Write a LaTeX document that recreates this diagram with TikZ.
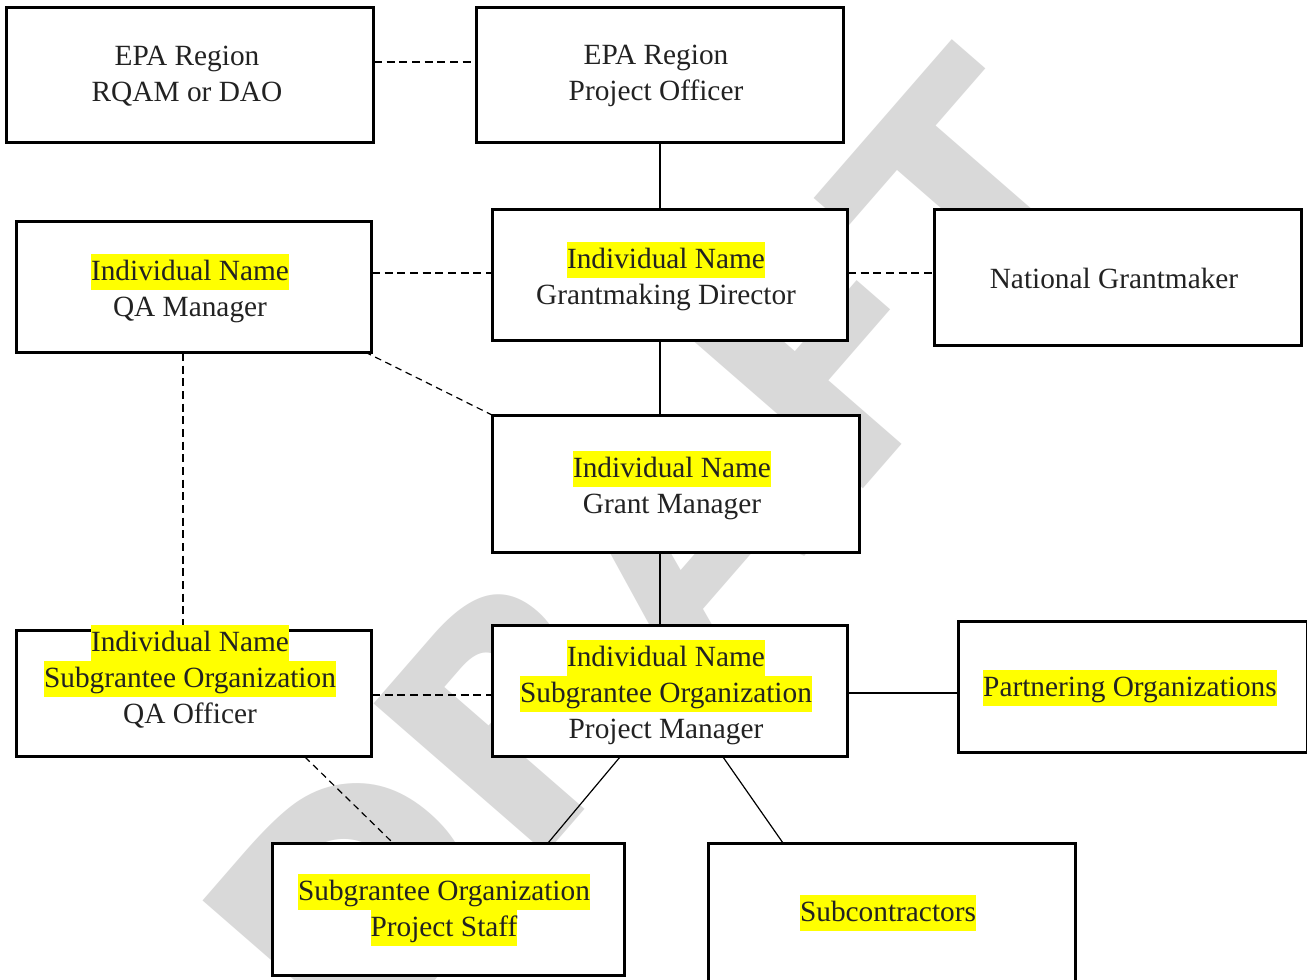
\documentclass[tikz,border=0pt]{standalone}
\usepackage{fontspec}
\setmainfont{Liberation Serif}
\newfontfamily\wmfont{DejaVu Sans}
\usepackage{xcolor}
\definecolor{wmgray}{RGB}{217,217,217}
\definecolor{hlyellow}{RGB}{255,255,0}
\definecolor{txtcol}{RGB}{34,34,34}
\newcommand{\hlt}[1]{{\setlength{\fboxsep}{0pt}\colorbox{hlyellow}{\rule[-7pt]{0pt}{27pt}#1}}}
\begin{document}
\begin{tikzpicture}[x=0.75pt,y=-0.75pt,
  box/.style={draw=black, fill=white, line width=1.5pt, rectangle, inner sep=0pt},
  txt/.style={align=center, text=txtcol, font=\fontsize{22}{27}\selectfont, inner sep=0pt},
  solidline/.style={line width=1.5pt},
  thickline/.style={line width=2.2pt},
  thinline/.style={line width=0.9pt},
  dashline/.style={line width=1.5pt, dash pattern=on 6pt off 3.5pt},
  thindash/.style={line width=0.9pt, dash pattern=on 5pt off 3.5pt}]
\useasboundingbox (0,0) rectangle (1307,979);
\fill[white] (0,0) rectangle (1307,979);
% watermark
\node[text=wmgray, font=\wmfont\bfseries\fontsize{235}{235}\selectfont, rotate=49, inner sep=0pt] (wm) at (655,555) {DRAFT};
% boxes
\node[box, minimum width=366*0.75pt, minimum height=134*0.75pt] (epa1) at (190,75) {};
\node[box, minimum width=366*0.75pt, minimum height=134*0.75pt] (epa2) at (660,75) {};
\node[box, minimum width=354*0.75pt, minimum height=130*0.75pt] (qam) at (194,287) {};
\node[box, minimum width=354*0.75pt, minimum height=130*0.75pt] (gmd) at (670,275) {};
\node[box, minimum width=366*0.75pt, minimum height=135*0.75pt] (ngm) at (1118,277.5) {};
\node[box, minimum width=366*0.75pt, minimum height=136*0.75pt] (gm) at (676,484) {};
\node[box, minimum width=354*0.75pt, minimum height=125*0.75pt] (qao) at (194,693.5) {};
\node[box, minimum width=354*0.75pt, minimum height=130*0.75pt] (pm) at (670,691) {};
\node[box, minimum width=348*0.75pt, minimum height=130*0.75pt] (po) at (1133,687) {};
\node[box, minimum width=351*0.75pt, minimum height=131*0.75pt] (ps) at (448.5,909.5) {};
\node[box, minimum width=366*0.75pt, minimum height=140*0.75pt] (sc) at (892,914) {};
% connectors
\draw[dashline] (epa1.east |- 0,62) -- (epa2.west |- 0,62);
\draw[solidline] (epa2.south -| 660,0) -- (gmd.north -| 660,0);
\draw[dashline] (qam.east |- 0,273) -- (gmd.west |- 0,273);
\draw[dashline] (gmd.east |- 0,273) -- (ngm.west |- 0,273);
\draw[solidline] (gmd.south -| 660,0) -- (gm.north -| 660,0);
\draw[solidline] (gm.south -| 660,0) -- (pm.north -| 660,0);
\draw[thindash] (365,352) -- (gm.north west);
\draw[dashline, line width=1.2pt] (qam.south -| 183,0) -- (qao.north -| 183,0);
\draw[dashline] (qao.east |- 0,695) -- (pm.west |- 0,695);
\draw[thickline] (pm.east |- 0,693) -- (po.west |- 0,693);
\draw[thinline] (pm.south -| 620,0) -- (ps.north -| 548,0);
\draw[thinline] (pm.south -| 723,0) -- (sc.north -| 783,0);
\draw[thindash] (qao.south -| 305,0) -- (ps.north -| 393,0);
% redraw box borders over connector ends
\foreach \n in {epa1,epa2,qam,gmd,ngm,gm,qao,pm,po,ps,sc} \draw[line width=1.5pt] (\n.north west) rectangle (\n.south east);
% texts
\node[txt] (t1) at (187,76) {EPA Region\\RQAM or DAO};
\node[txt] (t2) at (656,76) {EPA Region\\Project Officer};
\node[txt] (t3) at (190,288) {\hlt{Individual Name}\\QA Manager};
\node[txt] (t4) at (666,276) {\hlt{Individual Name}\\Grantmaking Director};
\node[txt] (t5) at (1114,278) {National Grantmaker};
\node[txt] (t6) at (672,485) {\hlt{Individual Name}\\Grant Manager};
\node[txt] (t7) at (190,677) {\hlt{Individual Name}\\\hlt{Subgrantee Organization}\\QA Officer};
\node[txt] (t8) at (666,692) {\hlt{Individual Name}\\\hlt{Subgrantee Organization}\\Project Manager};
\node[txt] (t9) at (1130,688) {\hlt{Partnering Organizations}};
\node[txt] (t10) at (444,910) {\hlt{Subgrantee Organization}\\\hlt{Project Staff}};
\node[txt] (t11) at (888,913) {\hlt{Subcontractors}};
\end{tikzpicture}
\end{document}
